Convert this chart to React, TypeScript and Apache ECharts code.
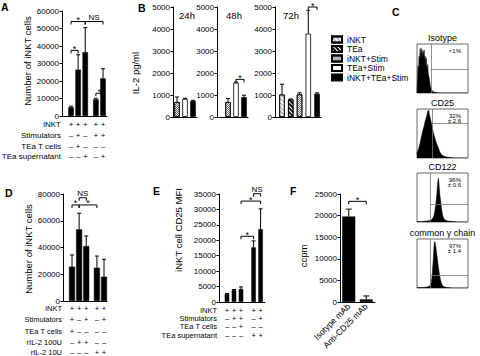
import React, { useEffect, useRef } from 'react';
import * as echarts from 'echarts';

const FONT = '"Liberation Sans", Arial, Helvetica, sans-serif';

// ---------- Panel A ----------
const aX = [1, 2, 3, 4.5, 5.5];
const aMean = [5000, 26500, 36500, 9500, 21500];
const aErr = [600, 8500, 14000, 600, 5500];
const aRowLabels = ['iNKT', 'Stimulators', 'TEa T cells', 'TEa supernatant'];
const aSigns = [
  ['+', '+', '+', '+', '+'],
  ['–', '+', '–', '+', '+'],
  ['–', '+', '–', '–', '–'],
  ['–', '–', '+', '–', '+'],
];
const aBrackets = [[1, 2, 37500], [1, 3, 54000], [3, 5.5, 54000], [4.5, 5.5, 13000]];
const aBracketLabels = ['*', '*', 'NS', '*'];

// ---------- Panel B ----------
const bConditions = ['iNKT', 'TEa', 'iNKT+Stim', 'TEa+Stim', 'iNKT+TEa+Stim'];
const bTimes = ['24h', '48h', '72h'];
const b24Cond = ['iNKT+Stim', 'TEa+Stim', 'iNKT+TEa+Stim'];
const b24X = [1, 2, 3];
const b24Mean = [680, 820, 730];
const b24Err = [230, 30, 30];
const b48Cond = ['iNKT+Stim', 'TEa+Stim', 'iNKT+TEa+Stim'];
const b48X = [1, 2, 3];
const b48Mean = [680, 1560, 900];
const b48Err = [160, 30, 90];
const b72Cond = ['iNKT', 'TEa', 'iNKT+Stim', 'TEa+Stim', 'iNKT+TEa+Stim'];
const b72X = [1, 2, 3, 4, 5];
const b72Mean = [1020, 800, 1030, 3790, 1060];
const b72Err = [470, 20, 70, 1060, 40];
const b48Brackets = [[2, 3, 1710]];
const b48BracketLabels = ['*'];
const b72Brackets = [[4, 5, 5000]];
const b72BracketLabels = ['*'];

// ---------- Panel C ----------
const cTitles = ['Isotype', 'CD25', 'CD122', 'common γ chain'];
const cPercents = ['<1%', '32%\n± 2.6', '96%\n± 0.6', '97%\n± 1.4'];
const cGateX = [27, 29, 25.5, 25.5];
const cGateY = [48, 70, 36, 27];
const cIsotype = [[0, 0], [1, 30], [2, 55], [3, 45], [4, 75], [5, 65], [6, 90], [7, 70], [8, 92], [9, 80], [10, 88], [11, 70], [12, 85], [13, 78], [14, 88], [15, 70], [16, 75], [17, 60], [18, 72], [19, 55], [20, 50], [21, 58], [22, 40], [23, 35], [24, 30], [25, 22], [26, 15], [28, 8], [30, 4], [33, 2], [38, 1], [45, 0], [100, 0]];
const cCD25 = [[0, 10], [2, 16], [4, 22], [6, 30], [8, 40], [10, 50], [12, 58], [14, 66], [16, 75], [18, 82], [20, 90], [21, 96], [22, 94], [23, 98], [24, 90], [26, 82], [28, 72], [30, 62], [32, 52], [35, 41], [38, 31], [42, 20], [45, 12], [48, 7], [52, 4], [58, 2], [65, 1], [75, 0], [100, 0]];
const cCD122 = [[0, 1], [10, 1], [20, 2], [26, 3], [30, 6], [33, 12], [35, 22], [37, 38], [39, 58], [40, 72], [41, 85], [42, 90], [43, 80], [44, 65], [46, 45], [48, 28], [50, 15], [52, 8], [55, 4], [60, 2], [70, 1], [80, 0], [100, 0]];
const cGamma = [[0, 1], [10, 1], [20, 2], [25, 4], [28, 10], [30, 30], [32, 60], [33, 80], [34, 92], [35, 95], [36, 90], [38, 75], [40, 58], [42, 42], [44, 28], [46, 17], [48, 9], [50, 5], [54, 2], [60, 1], [70, 0], [100, 0]];
const cHists = [cIsotype, cCD25, cCD122, cGamma];

// ---------- Panel D ----------
const dX = [1, 2, 3, 4.5, 5.5];
const dMean = [25700, 53600, 41100, 24900, 18200];
const dErr = [8700, 12000, 7500, 8700, 13000];
const dRowLabels = ['iNKT', 'Stimulators', 'TEa T cells', 'rIL-2 100U', 'rIL-2 10U'];
const dSigns = [
  ['+', '+', '+', '+', '+'],
  ['+', '–', '+', '–', '+'],
  ['+', '–', '–', '–', '–'],
  ['–', '+', '+', '–', '–'],
  ['–', '–', '–', '+', '+'],
];
const dBrackets = [[1, 2, 71800], [2, 4.5, 71800], [2, 3, 77200]];
const dBracketLabels = ['*', '*', 'NS'];

// ---------- Panel E ----------
const eX = [1, 2, 3, 4.8, 5.8];
const eMean = [2600, 3900, 4200, 17700, 23600];
const eErr = [150, 150, 700, 2100, 6600];
const eRowLabels = ['iNKT', 'Stimulators', 'TEa T cells', 'TEa supernatant'];
const eSigns = [
  ['+', '+', '+', '+', '+'],
  ['–', '+', '+', '–', '+'],
  ['–', '–', '+', '–', '–'],
  ['–', '–', '–', '+', '+'],
];
const eBrackets = [[3, 4.8, 21300], [3, 5.8, 32700], [4.8, 5.8, 35100]];
const eBracketLabels = ['*', '*', 'NS'];

// ---------- Panel F ----------
const fCats = ['Isotype mAb', 'Anti-CD25 mAb'];
const fMean = [19800, 600];
const fErr = [1700, 800];
const fBrackets = [[0, 1, 23300]];
const fBracketLabels = ['*'];

// ---------- styles ----------
const condStyle: Record<string, any> = {
  'iNKT': { color: '#fff', borderColor: '#000', borderWidth: 0.8, decal: { symbol: 'rect', symbolSize: 1, dashArrayX: [1, 0], dashArrayY: [1, 2], rotation: Math.PI / 4, color: '#999' } },
  'TEa': { color: '#fff', borderColor: '#000', borderWidth: 0.8, decal: { symbol: 'rect', symbolSize: 1, dashArrayX: [1, 0], dashArrayY: [1.4, 1], rotation: Math.PI / 4, color: '#111' } },
  'iNKT+Stim': { color: '#fff', borderColor: '#000', borderWidth: 0.8, decal: { symbol: 'rect', symbolSize: 1, dashArrayX: [[1, 1], [0, 1, 1, 0]], dashArrayY: [1, 0], rotation: 0, color: '#666' } },
  'TEa+Stim': { color: '#fff', borderColor: '#000', borderWidth: 0.8 },
  'iNKT+TEa+Stim': { color: '#000', borderColor: '#000', borderWidth: 0.8 },
};

const GRIDS = [
  { left: 62, top: 11, width: 45, height: 105 },   // 0 A
  { left: 173, top: 7, width: 24, height: 110 },   // 1 B24
  { left: 217, top: 7, width: 31, height: 110 },   // 2 B48
  { left: 275, top: 7, width: 46, height: 110 },   // 3 B72
  { left: 63, top: 194, width: 44, height: 107 },  // 4 D
  { left: 219, top: 194, width: 46, height: 108 }, // 5 E
  { left: 340, top: 194, width: 35, height: 108 }, // 6 F
  { left: 417, top: 44, width: 51, height: 49 },   // 7 hist
  { left: 417, top: 109, width: 51, height: 49 },  // 8
  { left: 417, top: 173, width: 51, height: 49 },  // 9
  { left: 417, top: 239, width: 51, height: 49 },  // 10
];

const BLACK = '#000000';

const BRACKET_SETS: { gi: number; brs: number[][]; labels: string[] }[] = [
  { gi: 0, brs: aBrackets, labels: aBracketLabels },
  { gi: 2, brs: b48Brackets, labels: b48BracketLabels },
  { gi: 3, brs: b72Brackets, labels: b72BracketLabels },
  { gi: 4, brs: dBrackets, labels: dBracketLabels },
  { gi: 5, brs: eBrackets, labels: eBracketLabels },
  { gi: 6, brs: fBrackets, labels: fBracketLabels },
];

function yAx(gi: number, max: number, interval: number) {
  return {
    type: 'value', gridIndex: gi, min: 0, max, interval,
    axisLine: { show: true, onZero: false, lineStyle: { color: BLACK, width: 1 } },
    axisTick: { show: true, length: 2.5, lineStyle: { color: BLACK, width: 1 } },
    axisLabel: { fontSize: 8, color: BLACK, margin: 3, fontFamily: FONT, formatter: (v: number) => String(v) },
    splitLine: { show: false },
  };
}
function xVal(gi: number, min: number, max: number) {
  return {
    type: 'value', gridIndex: gi, min, max,
    axisLine: { show: true, onZero: false, lineStyle: { color: BLACK, width: 1 } },
    axisTick: { show: false }, axisLabel: { show: false }, splitLine: { show: false },
  };
}
function hiddenAx(gi: number) {
  return { type: 'value', gridIndex: gi, min: 0, max: 100, show: false, splitLine: { show: false } };
}

function errRender(cap: number) {
  return (params: any, api: any) => {
    const x = api.value(0), m = api.value(1), e = api.value(2);
    const p0 = api.coord([x, m]);
    const p1 = api.coord([x, m + e]);
    return {
      type: 'group',
      children: [
        { type: 'line', shape: { x1: p0[0], y1: p0[1], x2: p1[0], y2: p1[1] }, style: { stroke: BLACK, lineWidth: 1 } },
        { type: 'line', shape: { x1: p1[0] - cap, y1: p1[1], x2: p1[0] + cap, y2: p1[1] }, style: { stroke: BLACK, lineWidth: 1 } },
      ],
    };
  };
}
function brRender() {
  return (params: any, api: any) => {
    const x1 = api.value(0), x2 = api.value(1), yv = api.value(2);
    const p1 = api.coord([x1, yv]);
    const p2 = api.coord([x2, yv]);
    return {
      type: 'polyline',
      shape: { points: [[p1[0], p1[1] + 3], [p1[0], p1[1]], [p2[0], p2[1]], [p2[0], p2[1] + 3]] },
      style: { stroke: BLACK, lineWidth: 1, fill: 'none' },
    };
  };
}
function signRender(rows: string[][], offsets: number[], fs: number) {
  return (params: any, api: any) => {
    const i = params.dataIndex;
    const p = api.coord([api.value(0), 0]);
    return {
      type: 'group',
      children: rows.map((row, r) => ({
        type: 'text', x: p[0], y: p[1] + offsets[r],
        style: { text: row[i], fontSize: fs, fontFamily: FONT, fill: '#000', align: 'center', verticalAlign: 'middle' },
      })),
    };
  };
}

const A_ROWS = [8.5, 19.5, 30, 40];
const D_ROWS = [7.5, 18.8, 30, 41.3, 51.8];
const E_ROWS = [8, 16.3, 24.6, 33];

function txt(x: number, y: number, text: string, opts: any = {}) {
  return { type: 'text', x, y, silent: true, z: 100, style: { text, fill: BLACK, fontFamily: FONT, fontSize: 8, align: 'center', verticalAlign: 'middle', ...opts } };
}
function vtxt(x: number, y: number, text: string, fs: number) {
  return { type: 'text', x, y, rotation: Math.PI / 2, silent: true, style: { text, fill: BLACK, fontFamily: FONT, fontSize: fs, align: 'center', verticalAlign: 'middle' } };
}

function baseGraphic() {
  const graphic: any[] = [];
  const letters: [string, number, number][] = [['A', 1, 1], ['B', 138, 2], ['C', 392, 6], ['D', 5, 187], ['E', 153, 185], ['F', 290, 185]];
  letters.forEach(([t, x, y]) => graphic.push(txt(x, y, t, { fontSize: 10.5, fontWeight: 'bold', align: 'left', verticalAlign: 'top' })));
  graphic.push(vtxt(27.5, 61, 'Number of iNKT cells', 9.5));
  graphic.push(vtxt(135, 73, 'IL-2 pg/ml', 9.5));
  graphic.push(vtxt(28, 249, 'Number of iNKT cells', 9.5));
  graphic.push(vtxt(178, 230, 'iNKT cell CD25 MFI', 9.5));
  graphic.push(vtxt(303, 256, 'ccpm', 9.5));
  aRowLabels.forEach((t, r) => graphic.push(txt(61, 116 + A_ROWS[r], t, { align: 'right', fontSize: 8 })));
  dRowLabels.forEach((t, r) => graphic.push(txt(62, 301 + D_ROWS[r], t, { align: 'right', fontSize: 7.5 })));
  eRowLabels.forEach((t, r) => graphic.push(txt(217, 302 + E_ROWS[r], t, { align: 'right', fontSize: 7.5 })));
  const timePos = [187, 234, 291];
  bTimes.forEach((t, i) => graphic.push(txt(timePos[i], 15, t, { fontSize: 9.5 })));
  cTitles.forEach((t, k) => {
    const g = GRIDS[7 + k];
    graphic.push(txt(g.left + g.width / 2, g.top - 6, t, { fontSize: 9 }));
    graphic.push(txt(461, g.top + 4, cPercents[k], { fontSize: 6, lineHeight: 5, align: 'right', verticalAlign: 'top' }));
  });
  return graphic;
}

function buildOption() {
  const xAxis: any[] = [
    xVal(0, -0.27, 6.06),
    xVal(1, 0.5, 3.5),
    xVal(2, -0.375, 3.5),
    xVal(3, 0.2, 5.45),
    xVal(4, -0.27, 5.92),
    xVal(5, -0.14, 6.43),
    {
      type: 'category', gridIndex: 6, data: fCats,
      axisLine: { show: true, lineStyle: { color: BLACK, width: 1 } },
      axisTick: { show: false },
      axisLabel: { rotate: 45, fontSize: 8.5, color: BLACK, margin: 3, interval: 0, fontFamily: FONT },
    },
    hiddenAx(7), hiddenAx(8), hiddenAx(9), hiddenAx(10),
  ];
  const yAxis: any[] = [
    yAx(0, 60000, 10000),
    yAx(1, 5000, 1000), yAx(2, 5000, 1000), yAx(3, 5000, 1000),
    yAx(4, 80000, 20000),
    yAx(5, 35000, 5000),
    yAx(6, 25000, 5000),
    hiddenAx(7), hiddenAx(8), hiddenAx(9), hiddenAx(10),
  ];

  const series: any[] = [];
  const blackItem = { color: BLACK, borderColor: BLACK, borderWidth: 0.5 };
  const barSimple = (gi: number, xs: number[], means: number[], w: number) => ({
    type: 'bar', xAxisIndex: gi, yAxisIndex: gi, barWidth: w, silent: true,
    itemStyle: blackItem,
    data: xs.map((x, i) => [x, means[i]]),
  });
  const errSeries = (gi: number, xs: number[], means: number[], errs: number[], cap: number) => ({
    type: 'custom', xAxisIndex: gi, yAxisIndex: gi, silent: true, z: 5, itemStyle: { color: BLACK },
    renderItem: errRender(cap), encode: { x: 0, y: [1, 2] },
    data: xs.map((x, i) => [x, means[i], errs[i]]),
  });
  const signSeries = (gi: number, xs: number[], rows: string[][], offs: number[], fs: number) => ({
    type: 'custom', xAxisIndex: gi, yAxisIndex: gi, silent: true, z: 6, clip: false, itemStyle: { color: BLACK },
    renderItem: signRender(rows, offs, fs), encode: { x: 0, y: 1 },
    data: xs.map((x) => [x, 0]),
  });

  series.push(barSimple(0, aX, aMean, 5.5));
  series.push(errSeries(0, aX, aMean, aErr, 2));
  series.push(signSeries(0, aX, aSigns, A_ROWS, 8));

  const bSets = [
    { gi: 1, cond: b24Cond, xs: b24X, mean: b24Mean, err: b24Err },
    { gi: 2, cond: b48Cond, xs: b48X, mean: b48Mean, err: b48Err },
    { gi: 3, cond: b72Cond, xs: b72X, mean: b72Mean, err: b72Err },
  ];
  bSets.forEach((s) => {
    s.cond.forEach((c, i) => {
      series.push({
        type: 'bar', name: c, xAxisIndex: s.gi, yAxisIndex: s.gi, barWidth: 5.5, barGap: '-100%', silent: true,
        itemStyle: condStyle[c],
        data: [[s.xs[i], s.mean[i]]],
      });
    });
    series.push(errSeries(s.gi, s.xs, s.mean, s.err, 2));
  });

  series.push(barSimple(4, dX, dMean, 6));
  series.push(errSeries(4, dX, dMean, dErr, 2));
  series.push(signSeries(4, dX, dSigns, D_ROWS, 7.5));

  series.push(barSimple(5, eX, eMean, 4.5));
  series.push(errSeries(5, eX, eMean, eErr, 2));
  series.push(signSeries(5, eX, eSigns, E_ROWS, 7.5));

  series.push({
    type: 'bar', xAxisIndex: 6, yAxisIndex: 6, barWidth: 13, silent: true,
    itemStyle: blackItem,
    data: fMean,
  });
  series.push(errSeries(6, [0, 1], fMean, fErr, 3));

  // significance bracket lines
  BRACKET_SETS.forEach((b) => {
    series.push({
      type: 'custom', xAxisIndex: b.gi, yAxisIndex: b.gi, silent: true, z: 6, clip: false, itemStyle: { color: BLACK },
      renderItem: brRender(), encode: { x: [0, 1], y: 2 },
      data: b.brs,
    });
  });

  cHists.forEach((h, k) => {
    series.push({
      type: 'line', xAxisIndex: 7 + k, yAxisIndex: 7 + k, silent: true, symbol: 'none', smooth: false,
      lineStyle: { color: BLACK, width: 0.5 }, areaStyle: { color: BLACK, opacity: 1 }, itemStyle: { color: BLACK },
      data: h,
      markLine: {
        silent: true, symbol: 'none', label: { show: false },
        lineStyle: { color: '#777', width: 0.8, type: 'solid' },
        data: [
          [{ coord: [cGateX[k], 0] }, { coord: [cGateX[k], 100] }],
          [{ coord: [cGateX[k], cGateY[k]] }, { coord: [100, cGateY[k]] }],
        ],
      },
    });
  });

  return {
    animation: false,
    backgroundColor: '#fff',
    color: [BLACK],
    textStyle: { fontFamily: FONT },
    grid: GRIDS.map((g, i) => ({
      ...g, containLabel: false, outerBoundsMode: 'none',
      show: i >= 7, borderColor: '#444', borderWidth: 0.8, backgroundColor: 'transparent',
    })),
    legend: {
      data: bConditions, orient: 'vertical', left: 331, top: 35,
      itemWidth: 10, itemHeight: 6, itemGap: 0.5, icon: 'rect', selectedMode: false,
      textStyle: { fontSize: 8.5, color: BLACK, fontFamily: FONT },
      padding: 0,
    },
    xAxis, yAxis, series, graphic: baseGraphic(),
  };
}

function bracketLabelGraphics(chart: any) {
  const out: any[] = [];
  BRACKET_SETS.forEach((b) => {
    b.brs.forEach((br, i) => {
      const p1 = chart.convertToPixel({ gridIndex: b.gi }, [br[0], br[2]]);
      const p2 = chart.convertToPixel({ gridIndex: b.gi }, [br[1], br[2]]);
      if (!p1 || !p2) return;
      const lab = b.labels[i];
      const star = lab === '*';
      out.push(txt((p1[0] + p2[0]) / 2, p1[1] + (star ? -1.5 : -4.5), lab, { fontSize: star ? 9 : 8, fill: '#000000' }));
    });
  });
  return out;
}

export default function App() {
  const ref = useRef<HTMLDivElement>(null);
  useEffect(() => {
    const chart = echarts.init(ref.current!, null, { renderer: 'svg' });
    chart.setOption(buildOption() as any);
    chart.setOption({ graphic: [...baseGraphic(), ...bracketLabelGraphics(chart)] } as any);
    return () => chart.dispose();
  }, []);
  return <div ref={ref} style={{ position: 'absolute', left: 0, top: 0, width: 480, height: 356, background: '#fff' }} />;
}
